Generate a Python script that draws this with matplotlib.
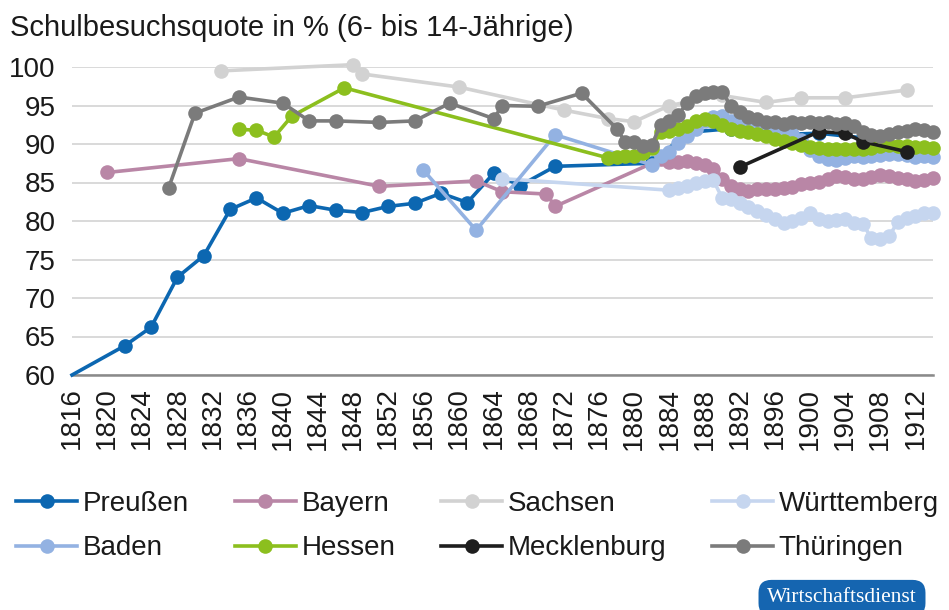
import matplotlib

matplotlib.use("Agg")

import matplotlib.pyplot as plt

plt.rcParams["font.family"] = ["Liberation Sans", "DejaVu Sans"]

TITLE = "Schulbesuchsquote in % (6- bis 14-Jährige)"
Y_TICKS = [60, 65, 70, 75, 80, 85, 90, 95, 100]
X_TICKS = list(range(1816, 1913, 4))

preussen_years = [1816, 1822, 1825, 1828, 1831, 1834, 1837, 1840, 1843, 1846, 1849, 1852,
                  1855, 1858, 1861, 1864, 1867, 1871, 1882, 1886, 1891, 1896, 1901, 1906, 1911]
preussen_vals = [60.0, 63.8, 66.2, 72.7, 75.5, 81.5, 83.0, 81.0, 82.0, 81.4, 81.1, 81.9,
                 82.3, 83.6, 82.4, 86.2, 84.6, 87.1, 87.5, 91.5, 92.0, 91.2, 91.4, 90.8, 89.5]

bayern_years = [1820, 1835, 1851, 1862, 1865, 1870, 1871] + list(range(1883, 1915))
bayern_vals = [86.3, 88.1, 84.5, 85.2, 83.8, 83.5, 81.9,
               88.0, 87.7, 87.6, 87.8, 87.5, 87.3, 86.8, 85.5, 84.6, 84.1, 83.9, 84.1,
               84.2, 84.1, 84.3, 84.4, 84.8, 85.0, 85.1, 85.5, 85.8, 85.7, 85.5, 85.4,
               85.7, 86.0, 85.8, 85.6, 85.4, 85.2, 85.3, 85.6]

sachsen_years = [1833, 1848, 1849, 1860, 1872, 1877, 1880, 1884, 1890, 1895, 1899, 1904, 1911]
sachsen_vals = [99.5, 100.3, 99.1, 97.4, 94.4, 93.3, 92.9, 95.0, 96.3, 95.4, 96.0, 96.0, 97.0]

wuerttemberg_years = [1865] + list(range(1884, 1915))
wuerttemberg_vals = [85.5,
                     84.0, 84.3, 84.6, 84.9, 85.2, 85.3, 83.0, 82.8, 82.3, 81.8, 81.3,
                     80.8, 80.3, 79.8, 80.0, 80.4, 81.0, 80.2, 80.0, 80.1, 80.3, 79.8,
                     79.6, 77.8, 77.7, 78.0, 79.9, 80.4, 80.7, 81.0, 81.0]

baden_years = [1856, 1862, 1871] + list(range(1882, 1915))
baden_vals = [86.6, 78.8, 91.2,
              87.3, 88.5, 89.0, 90.1, 91.0, 92.0, 93.0, 93.5, 93.6, 93.0, 92.5, 92.2,
              92.0, 91.8, 91.7, 91.5, 91.3, 90.5, 89.2, 88.5, 88.0, 87.9, 88.2, 88.4,
              88.3, 88.4, 88.6, 88.7, 88.7, 88.6, 88.3, 88.4, 88.3]

hessen_years = [1835, 1837, 1839, 1841, 1847] + list(range(1877, 1915))
hessen_vals = [91.9, 91.8, 90.9, 93.6, 97.3,
               88.2, 88.3, 88.4, 88.5, 88.8, 89.5, 91.6, 91.7, 92.0, 92.4, 93.0, 93.2,
               93.0, 92.5, 92.0, 91.7, 91.5, 91.3, 91.0, 90.7, 90.4, 90.1, 89.9, 89.6,
               89.5, 89.4, 89.4, 89.3, 89.3, 89.3, 89.5, 89.8, 89.9, 89.8, 89.7, 89.6,
               89.6, 89.5]

mecklenburg_years = [1892, 1901, 1904, 1906, 1911]
mecklenburg_vals = [87.0, 91.6, 91.4, 90.3, 89.0]

thueringen_years = [1827, 1830, 1835, 1840, 1843, 1846, 1851, 1855, 1859, 1864, 1865, 1869,
                    1874, 1878] + list(range(1879, 1915))
thueringen_vals = [84.3, 94.0, 96.1, 95.3, 93.0, 93.0, 92.8, 93.0, 95.3, 93.3, 95.0, 94.9,
                   96.6, 92.0,
                   90.2, 90.3, 89.8, 89.9, 92.5, 93.0, 93.8, 95.3, 96.2, 96.6, 96.8, 96.8,
                   94.9, 94.2, 93.5, 93.3, 92.8, 92.9, 92.6, 92.8, 92.7, 92.9, 92.7, 92.8,
                   92.6, 92.7, 92.3, 91.5, 91.2, 91.0, 91.3, 91.6, 91.7, 91.9, 91.8, 91.6]

series = [
    ("Preußen", preussen_years, preussen_vals, "#0c67b1"),
    ("Bayern", bayern_years, bayern_vals, "#b986a6"),
    ("Sachsen", sachsen_years, sachsen_vals, "#d2d2d2"),
    ("Württemberg", wuerttemberg_years, wuerttemberg_vals, "#c6d6ef"),
    ("Baden", baden_years, baden_vals, "#93b2e2"),
    ("Hessen", hessen_years, hessen_vals, "#8cbf1e"),
    ("Mecklenburg", mecklenburg_years, mecklenburg_vals, "#1e1e1e"),
    ("Thüringen", thueringen_years, thueringen_vals, "#7b7b7b"),
]

fig = plt.figure(figsize=(9.49, 6.10), dpi=100)
ax = fig.add_axes([72 / 949, 1 - 375 / 610, (933 - 72) / 949, (375 - 67) / 610])

handles = []
for i, (name, years, vals, color) in enumerate(series):
    # first Prussian value sits on the axis corner and shows no marker there
    every = range(1, len(years)) if name == "Preußen" else None
    (line,) = ax.plot(years, vals, color=color, linewidth=2.6, marker="o",
                      markersize=10.5, markeredgewidth=0, markevery=every,
                      label=name, zorder=3 + i, clip_on=False)
    handles.append(line)

ax.set_xlim(1816, 1914)
ax.set_ylim(60, 100)
ax.set_yticks(Y_TICKS)
ax.set_xticks(X_TICKS)
ax.set_xticklabels([str(y) for y in X_TICKS], rotation=90)
ax.tick_params(axis="both", length=0, labelsize=20, colors="#1a1a1a")
ax.tick_params(axis="x", pad=9)
ax.tick_params(axis="y", pad=12)
ax.grid(axis="y", color="#d3d3d3", linewidth=1.2, zorder=0)
for side in ("top", "right", "left"):
    ax.spines[side].set_visible(False)
ax.spines["bottom"].set_color("#8a8a8a")
ax.spines["bottom"].set_linewidth(1.8)
ax.spines["bottom"].set_zorder(2)

fig.text(0.011, 1 - 28 / 610, TITLE, fontsize=21, color="#1a1a1a", va="center", ha="left")

# legend fills column by column, so interleave to get the two rows of the original
order = [0, 4, 1, 5, 2, 6, 3, 7]
fig.legend(handles=[handles[k] for k in order], loc="upper left",
           bbox_to_anchor=(16 / 949, 1 - 491 / 610),
           ncol=4, frameon=False, fontsize=20, handlelength=2.2, handletextpad=0.2,
           columnspacing=1.65, labelspacing=0.66, borderpad=0, borderaxespad=0,
           labelcolor="#1a1a1a")

fig.text(842 / 949, 1 - 598 / 610, "Wirtschaftsdienst", family=["Liberation Serif", "DejaVu Serif"],
         fontsize=15.5, color="white", ha="center", va="center",
         bbox=dict(boxstyle="round,pad=0.4,rounding_size=0.6", facecolor="#1565b0",
                   edgecolor="none"))

fig.savefig("out.png", dpi=100)
